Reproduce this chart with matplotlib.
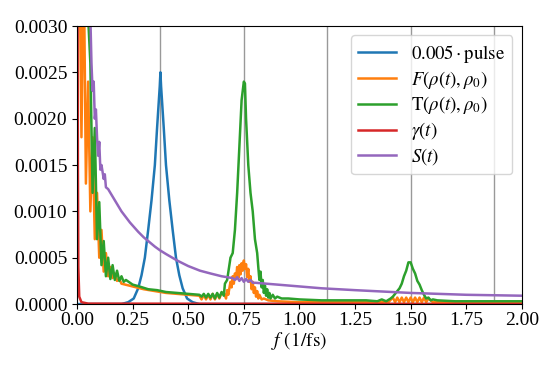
import matplotlib
matplotlib.use('Agg')
import matplotlib.pyplot as plt
import numpy as np

plt.rcParams['font.family'] = ['Liberation Serif', 'DejaVu Serif']
plt.rcParams['mathtext.fontset'] = 'stix'
plt.rcParams['font.size'] = 14

# 0.005 * pulse spectrum
f_pulse = [0.0, 0.15, 0.20, 0.23, 0.255, 0.275, 0.29, 0.305, 0.32, 0.335, 0.35, 0.36, 0.368, 0.372, 0.375,
           0.378, 0.382, 0.39, 0.40, 0.415, 0.43, 0.445, 0.46, 0.475, 0.495, 0.52, 0.55, 0.60, 2.0]
pulse = [0.0, 0.0, 0.0, 0.00002, 0.00006, 0.00017, 0.00031, 0.0005, 0.0008, 0.00112, 0.0015, 0.0019, 0.0022, 0.00235, 0.0025,
         0.00235, 0.0022, 0.0019, 0.0015, 0.00112, 0.0008, 0.0005, 0.00031, 0.00017, 0.00006, 0.00002, 0.0, 0.0, 0.0]

# fidelity F(rho(t), rho0)
f_fid = [0.0, 0.01, 0.02, 0.03, 0.04, 0.05, 0.06, 0.07, 0.08, 0.09, 0.10, 0.11, 0.12, 0.13, 0.14, 0.15,
         0.16, 0.17, 0.18, 0.19, 0.20, 0.25, 0.30, 0.35, 0.40, 0.45, 0.50, 0.55,
         0.56, 0.57, 0.58, 0.59, 0.60, 0.61, 0.62, 0.63, 0.64, 0.65, 0.66, 0.67, 0.675, 0.68, 0.69, 0.695,
         0.70, 0.705, 0.71, 0.715, 0.72, 0.725, 0.73, 0.735, 0.74, 0.745, 0.75, 0.755, 0.76, 0.765, 0.77,
         0.775, 0.78, 0.785, 0.79, 0.795, 0.80, 0.805, 0.81, 0.815, 0.82, 0.83, 0.84, 0.86, 0.90, 1.00, 1.40,
         1.42, 1.43, 1.44, 1.45, 1.46, 1.47, 1.48, 1.49, 1.50, 1.51, 1.52, 1.53, 1.54, 1.55, 1.56, 1.57, 1.58,
         1.60, 2.00]
fid = [0.0045, 0.0040, 0.0018, 0.0038, 0.0013, 0.0024, 0.0010, 0.0018, 0.0007, 0.0012, 0.0005, 0.0008, 0.00035, 0.00055, 0.0003, 0.0004,
       0.00028, 0.00033, 0.00025, 0.00027, 0.00022, 0.00019, 0.00016, 0.00014, 0.00012, 0.00011, 0.0001, 0.00009,
       0.00005, 0.00010, 0.00005, 0.00010, 0.00005, 0.00011, 0.00005, 0.00011, 0.00006, 0.00012, 0.00012, 0.00006, 0.00015, 0.0001, 0.00024, 0.00018,
       0.0003, 0.00022, 0.00033, 0.00027, 0.0004, 0.00028, 0.00042, 0.00032, 0.00044, 0.00036, 0.00047, 0.00038, 0.00043, 0.00029, 0.00038,
       0.00024, 0.0003, 0.00016, 0.00024, 0.00012, 0.00018, 0.00008, 0.00014, 0.00006, 0.0001, 0.00005, 0.00006, 0.00004, 0.00003, 0.00002, 0.00002,
       0.00007, 0.00002, 0.00007, 0.00002, 0.00007, 0.00002, 0.00007, 0.00002, 0.00007, 0.00002, 0.00007, 0.00002, 0.00007, 0.00002, 0.00007, 0.00002, 0.00006,
       0.00002, 0.00001]

# trace distance T(rho(t), rho0)
f_tr = [0.0, 0.01, 0.02, 0.03, 0.04, 0.05, 0.06, 0.07, 0.08, 0.09, 0.10, 0.11, 0.12, 0.13, 0.14, 0.15,
        0.16, 0.17, 0.18, 0.19, 0.20, 0.21, 0.22, 0.25, 0.28, 0.32, 0.36, 0.40, 0.45, 0.50, 0.55,
        0.56, 0.57, 0.58, 0.59, 0.60, 0.61, 0.62, 0.63, 0.64, 0.65, 0.66, 0.665, 0.675, 0.68, 0.69, 0.70,
        0.71, 0.72, 0.73, 0.74, 0.75, 0.755, 0.76, 0.77, 0.78, 0.79, 0.80, 0.81, 0.815, 0.82, 0.825, 0.83,
        0.835, 0.84, 0.845, 0.85, 0.855, 0.86, 0.865, 0.87, 0.88, 0.89, 0.90, 0.92, 0.95, 1.00, 1.10, 1.20,
        1.30, 1.35, 1.37, 1.39, 1.41, 1.42, 1.43, 1.44, 1.45, 1.46, 1.47, 1.48, 1.49, 1.50, 1.51, 1.52, 1.53,
        1.54, 1.55, 1.56, 1.57, 1.58, 1.59, 1.60, 1.62, 1.70, 2.00]
tr = [0.005, 0.0045, 0.0040, 0.0036, 0.0033, 0.0031, 0.0026, 0.0012, 0.0019, 0.0007, 0.0011, 0.00042, 0.00068, 0.0003, 0.0005, 0.00027,
      0.00042, 0.00026, 0.00036, 0.00025, 0.0003, 0.00024, 0.00026, 0.00021, 0.00019, 0.00016, 0.00015, 0.00013, 0.00012, 0.00011, 0.0001,
      0.00008, 0.00011, 0.00007, 0.00011, 0.00007, 0.00011, 0.00006, 0.00012, 0.00007, 0.00013, 0.00009, 0.00022, 0.00026, 0.00034, 0.0005, 0.00055,
      0.0008, 0.0012, 0.0017, 0.0022, 0.0024, 0.00238, 0.0020, 0.0015, 0.0012, 0.0010, 0.0007, 0.00055, 0.0004, 0.00026, 0.00035, 0.00018,
      0.00026, 0.00012, 0.0002, 0.00009, 0.00016, 0.00007, 0.00012, 0.00006, 0.0001, 0.00006, 0.00008, 0.00006, 0.00006, 0.00005, 0.00004, 0.00004,
      0.00004, 0.00003, 0.00005, 0.00003, 0.00006, 0.00008, 0.00011, 0.00014, 0.00017, 0.00022, 0.0003, 0.00036, 0.00045, 0.00045, 0.00038, 0.00033, 0.00025,
      0.00021, 0.00015, 0.0001, 0.00006, 0.00007, 0.00004, 0.00005, 0.00004, 0.00003, 0.00003]

# gamma(t)
f_gam = [0.0, 0.002, 0.004, 0.006, 0.01, 0.02, 0.05, 2.0]
gam = [0.02, 0.004, 0.0015, 0.0004, 0.00008, 0.00002, 0.000005, 0.0]

# S(t)
f_s = [0.015, 0.02, 0.025, 0.04, 0.055, 0.06, 0.065, 0.07, 0.075, 0.08, 0.085, 0.09, 0.095, 0.10, 0.105, 0.11,
       0.12, 0.125, 0.13, 0.14, 0.15, 0.17, 0.20, 0.238, 0.275, 0.30, 0.35, 0.373, 0.40, 0.45, 0.50, 0.553, 0.60, 0.65,
       0.70, 0.71, 0.72, 0.73, 0.74, 0.75, 0.76, 0.77, 0.78, 0.79, 0.80, 0.90, 1.00, 1.10, 1.25, 1.50, 1.75, 2.00]
s = [0.0045, 0.0032, 0.0041, 0.0040, 0.0034, 0.0031, 0.0026, 0.0023, 0.0024, 0.0020, 0.0021, 0.0018, 0.0016, 0.00175, 0.00145, 0.0015,
     0.00135, 0.0014, 0.00126, 0.00124, 0.0012, 0.00112, 0.001, 0.00088, 0.00078, 0.00072, 0.00062, 0.00058, 0.00054, 0.00047, 0.00041, 0.00036, 0.00033, 0.0003,
     0.00028, 0.00026, 0.00029, 0.00025, 0.00028, 0.00024, 0.00027, 0.00024, 0.00026, 0.00023, 0.00023, 0.00021, 0.00019, 0.00017, 0.00015, 0.00012, 0.0001, 0.00009]

vlines = [0.375, 0.75, 1.125, 1.5, 1.875]

fig = plt.figure(figsize=(5.54, 3.69), dpi=100)
ax = fig.add_axes([0.139, 0.176, 0.803, 0.7535])

for v in vlines:
    ax.axvline(v, color='#999999', lw=1.0, zorder=0)

lw = 1.8
ax.plot(f_pulse, pulse, color='C0', lw=lw, label=r'$0.005\cdot\mathrm{pulse}$')
ax.plot(f_fid, fid, color='C1', lw=lw, label=r'$F(\rho(t),\rho_0)$')
ax.plot(f_tr, tr, color='C2', lw=lw, label=r'$\mathrm{T}(\rho(t),\rho_0)$')
ax.plot(f_gam, gam, color='C3', lw=lw, label=r'$\gamma(t)$')
ax.plot(f_s, s, color='C4', lw=lw, label=r'$S(t)$')

ax.set_xlim(0, 2)
ax.set_ylim(0, 0.003)
ax.set_xticks(np.arange(0, 2.01, 0.25))
ax.set_yticks(np.arange(0, 0.00301, 0.0005))
ax.tick_params(axis='x', pad=2)
ax.xaxis.set_major_formatter(matplotlib.ticker.FormatStrFormatter('%.2f'))
ax.yaxis.set_major_formatter(matplotlib.ticker.FormatStrFormatter('%.4f'))
ax.set_xlabel(r'$f\ (1/\mathrm{fs})$', labelpad=1)
ax.legend(loc='upper right', fontsize=13.5, handlelength=2.0, labelspacing=0.2)

fig.savefig('out.png', dpi=100)
